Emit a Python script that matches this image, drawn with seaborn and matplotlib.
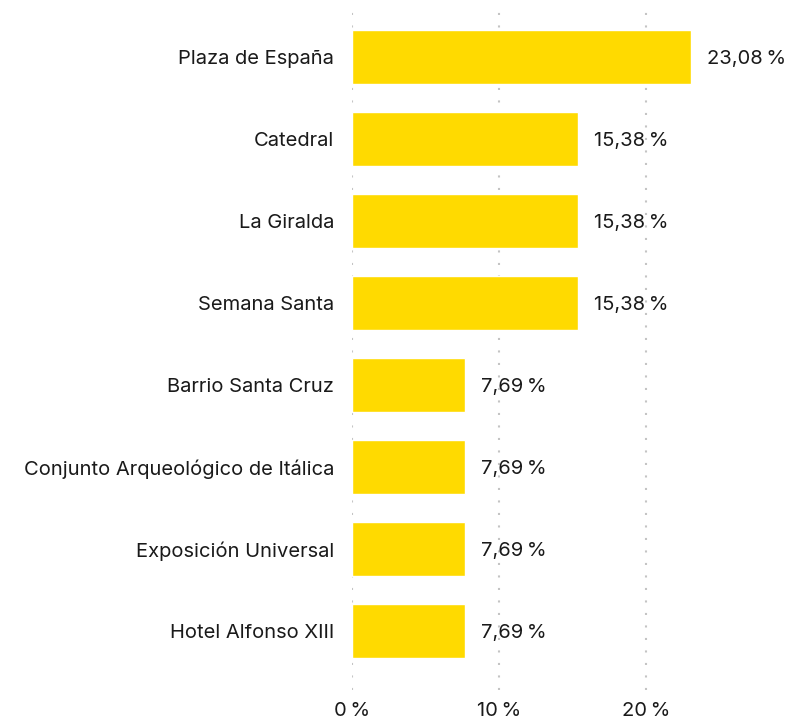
import pandas as pd
import seaborn as sns
import matplotlib.pyplot as plt

# Sitios de Sevilla más mencionados (% de menciones)
places = [
    "Plaza de España",
    "Catedral",
    "La Giralda",
    "Semana Santa",
    "Barrio Santa Cruz",
    "Conjunto Arqueológico de Itálica",
    "Exposición Universal",
    "Hotel Alfonso XIII",
]
shares = [23.08, 15.38, 15.38, 15.38, 7.69, 7.69, 7.69, 7.69]
x_ticks = [0, 10, 20]

sns.set_theme(style="white")
plt.rcParams["font.family"] = ["Inter", "DejaVu Sans"]
plt.rcParams["text.color"] = "#1a1a1a"

df = pd.DataFrame({"place": places, "share": shares})

fig = plt.figure(figsize=(8.05, 7.26), dpi=100)
ax = fig.add_axes([352 / 805, 1 - 690 / 726, (793 - 352) / 805, (690 - 5) / 726])

sns.barplot(df, x="share", y="place", color="#FFDA00", width=0.66, saturation=1, ax=ax, zorder=3)

for patch, val in zip(ax.patches, shares):
    y = patch.get_y() + patch.get_height() / 2
    ax.text(patch.get_width() + 1.1, y, f"{val:.2f}".replace(".", ",") + "\u2009%",
            va="center_baseline", ha="left", fontsize=14.5, color="#1a1a1a")

ax.set_xlim(0, 30)
ax.set_ylim(7.72, -0.634)
ax.set_xticks(x_ticks)
ax.set_xticklabels([f"{t}\u2009%" for t in x_ticks], fontsize=14.5, color="#1a1a1a")
ax.tick_params(axis="y", length=0, pad=13, labelsize=14.5, labelcolor="#1a1a1a")
ax.tick_params(axis="x", length=0, pad=9)
ax.xaxis.grid(True, color="#c4c4c4", linestyle=(0, (1, 5)), linewidth=1.5)
ax.set_axisbelow(True)
ax.set_xlabel("")
ax.set_ylabel("")
sns.despine(ax=ax, left=True, bottom=True)

fig.savefig("out.png", dpi=100)
